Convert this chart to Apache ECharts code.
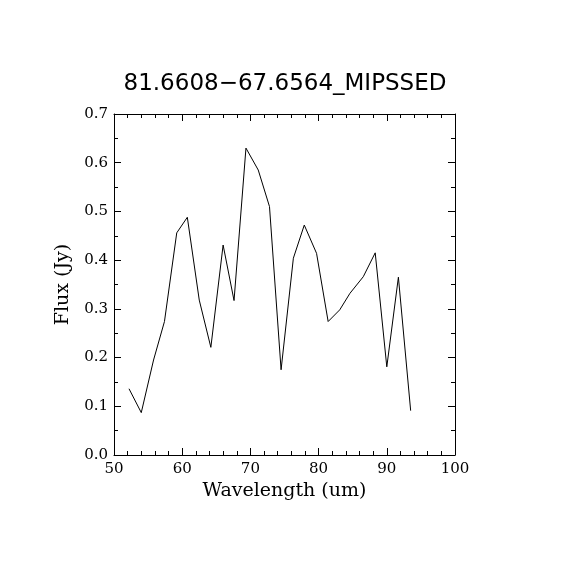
<!DOCTYPE html>
<html>
<head>
<meta charset="utf-8">
<script src="https://cdn.jsdelivr.net/npm/echarts@6/dist/echarts.min.js"></script>
<style>
  html, body { margin: 0; padding: 0; background: #fff; }
  #chart { width: 570px; height: 570px; }
</style>
</head>
<body>
<div id="chart"></div>
<script>
var chartTitle = '81.6608\u221267.6564_MIPSSED';

// wavelength (um) and flux (Jy)
var wavelength = [52.2, 54.0, 55.8, 57.4, 59.2, 60.75, 62.5, 64.2, 66.0, 67.6,
    69.35, 71.15, 72.8, 74.5, 76.3, 77.9, 79.7, 81.4, 83.1, 84.6,
    86.55, 88.3, 90.0, 91.7, 93.5];
var flux = [0.136, 0.087, 0.195, 0.274, 0.456, 0.488, 0.318, 0.221, 0.431, 0.317,
    0.630, 0.585, 0.510, 0.175, 0.404, 0.472, 0.414, 0.274, 0.298, 0.332,
    0.366, 0.415, 0.181, 0.365, 0.091];

var serif = 'DejaVu Serif';

var points = wavelength.map(function (w, i) {
    return [w, flux[i]];
});

var chart = echarts.init(document.getElementById('chart'));

function axisBase(show) {
    return {
        type: 'value',
        axisLine: { show: true, onZero: false, lineStyle: { color: '#000', width: 1 } },
        axisTick: { show: true, inside: true, length: 7, lineStyle: { color: '#000' } },
        minorTick: { show: true, length: 4, lineStyle: { color: '#000' } },
        splitLine: { show: false },
        axisLabel: {
            show: show,
            color: '#000',
            fontFamily: serif,
            fontSize: 15
        }
    };
}

var xBottom = Object.assign(axisBase(true), {
    position: 'bottom', min: 50, max: 100, interval: 10,
    name: 'Wavelength (um)', nameLocation: 'middle', nameGap: 27,
    nameTextStyle: { color: '#000', fontFamily: serif, fontSize: 19 }
});
xBottom.minorTick.splitNumber = 5;
xBottom.axisLabel.margin = 7;

var xTop = Object.assign(axisBase(false), {
    position: 'top', min: 50, max: 100, interval: 10
});
xTop.minorTick.splitNumber = 5;

var yLeft = Object.assign(axisBase(true), {
    position: 'left', min: 0, max: 0.7, interval: 0.1,
    name: 'Flux (Jy)', nameLocation: 'middle', nameGap: 41,
    nameTextStyle: { color: '#000', fontFamily: serif, fontSize: 19 }
});
yLeft.minorTick.splitNumber = 2;
yLeft.axisLabel.margin = 6;
yLeft.axisLabel.formatter = function (v) { return v.toFixed(1); };

var yRight = Object.assign(axisBase(false), {
    position: 'right', min: 0, max: 0.7, interval: 0.1
});
yRight.minorTick.splitNumber = 2;

chart.setOption({
    backgroundColor: '#fff',
    animation: false,
    title: {
        text: chartTitle,
        left: 'center',
        top: 68,
        textStyle: { color: '#000', fontFamily: 'DejaVu Sans', fontSize: 23, fontWeight: 'normal' }
    },
    grid: { left: 114, right: 115, top: 114, bottom: 115 },
    xAxis: [xBottom, xTop],
    yAxis: [yLeft, yRight],
    series: [{
        type: 'line',
        data: points,
        xAxisIndex: 0,
        yAxisIndex: 0,
        showSymbol: false,
        symbol: 'none',
        lineStyle: { color: '#000', width: 1 }
    }]
});
</script>
</body>
</html>
